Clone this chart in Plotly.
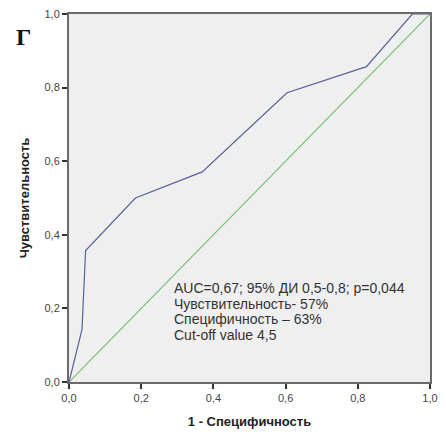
import plotly.graph_objects as go

# ROC curve points (1 - specificity, sensitivity)
fpr = [0.0, 0.036, 0.046, 0.184, 0.369, 0.604, 0.824, 0.951, 1.0]
tpr = [0.0, 0.143, 0.357, 0.500, 0.571, 0.786, 0.857, 1.0, 1.0]

ref_line = [0.0, 1.0]

tick_vals = [0.0, 0.2, 0.4, 0.6, 0.8, 1.0]
tick_text = ["0,0", "0,2", "0,4", "0,6", "0,8", "1,0"]

stats_lines = [
    "AUC=0,67; 95% ДИ 0,5-0,8; p=0,044",
    "Чувствительность- 57%",
    "Специфичность – 63%",
    "Cut-off value 4,5",
]

fig = go.Figure()
fig.add_trace(go.Scatter(x=ref_line, y=ref_line, mode="lines",
                         line=dict(color="#72c072", width=1.2), hoverinfo="skip"))
fig.add_trace(go.Scatter(x=fpr, y=tpr, mode="lines",
                         line=dict(color="#5a6098", width=1.2), hoverinfo="skip"))

axis_common = dict(
    range=[0, 1], tickvals=tick_vals, ticktext=tick_text,
    showgrid=False, zeroline=False, showline=True, mirror=True,
    linecolor="#6a6a6a", linewidth=2, ticks="outside", ticklen=5,
    tickwidth=1.5, tickcolor="#333", tickfont=dict(family="Arial", size=11, color="#444"),
)

W, H = 446, 435
ML, MR, MT, MB = 69, 8, 13, 46
plot_w = W - ML - MR
plot_h = H - MT - MB

fig.update_layout(
    width=W, height=H,
    margin=dict(l=ML, r=MR, t=MT, b=MB),
    paper_bgcolor="white", plot_bgcolor="#efefef",
    showlegend=False,
    xaxis=dict(**axis_common,
               title=dict(text="<b>1 - Специфичность</b>", standoff=14,
                          font=dict(family="Arial", size=13, color="#222"))),
    yaxis=dict(**axis_common,
               title=dict(text="<b>Чувствительность</b>", standoff=12,
                          font=dict(family="Arial", size=13, color="#222"))),
)

# statistics block, one annotation per line
for i, line in enumerate(stats_lines):
    fig.add_annotation(
        x=0.287, y=0.255 - i * 16 / plot_h, xref="x", yref="y",
        xanchor="left", yanchor="middle", borderpad=0,
        text=line, showarrow=False, align="left",
        font=dict(family="Arial", size=14, color="#333"),
    )

# panel letter in the top-left corner (centred near x=22, y=37 px)
fig.add_annotation(
    x=(22 - ML) / plot_w, y=(H - MB - 37) / plot_h, xref="paper", yref="paper",
    xanchor="center", yanchor="middle",
    showarrow=False, text="<b>Г</b>",
    font=dict(family="Liberation Serif", size=24, color="#111"),
)

fig.write_html("out.html")
